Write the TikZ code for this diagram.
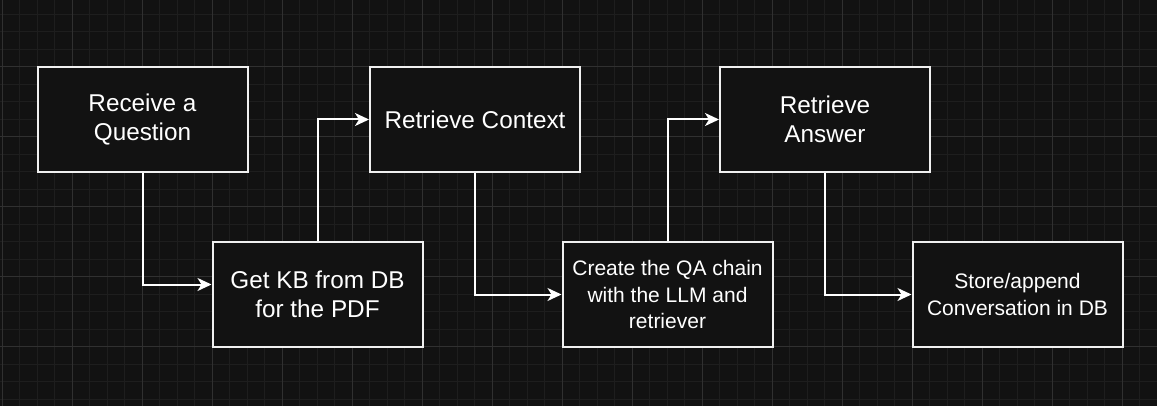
\documentclass[tikz,border=0pt]{standalone}
\usepackage{fontspec}
\setmainfont{Liberation Sans}
\usepackage{tikz}
\usetikzlibrary{positioning,arrows.meta}
\definecolor{bgdark}{HTML}{121212}
\definecolor{gridminor}{HTML}{1E1E1E}
\definecolor{gridmajor}{HTML}{303030}
\definecolor{boxline}{HTML}{F0F0F0}

\begin{document}
\begin{tikzpicture}[x=1pt,y=-1pt,
        stepbox/.style={draw=boxline, fill=bgdark, line width=2pt, minimum width=210pt, minimum height=105pt, align=center, text=white, font=\fontsize{24.3}{29}\selectfont},
        smallbox/.style={stepbox, font=\fontsize{21}{26.5}\selectfont},
        flow/.style={draw=white, line width=2pt, -{Stealth[length=14pt,width=13pt,inset=4pt]}}]
        \useasboundingbox (0,0) rectangle (1157,406);
        \fill[bgdark] (0,0) rectangle (1157,406);
        % grid
        \foreach \i in {0,...,66}
            \draw[gridminor, line width=1pt] (2.3+17.5*\i,0) -- (2.3+17.5*\i,406);
        \foreach \j in {0,...,22}
            \draw[gridminor, line width=1pt] (0,14.2+17.5*\j) -- (1157,14.2+17.5*\j);
        \foreach \i in {0,...,16}
            \draw[gridmajor, line width=1pt] (2.3+70*\i,0) -- (2.3+70*\i,406);
        \foreach \j in {1,...,5}
            \draw[gridmajor, line width=1pt] (0,-3.3+70*\j) -- (1157,-3.3+70*\j);

        \node[stepbox] (question) at (142.5,119.5) {Receive a\\Question};
        \node[stepbox] (kb) at (317.5,294.5) {Get KB from DB\\for the PDF};
        \node[stepbox] (context) at (475,119.5) {Retrieve Context};
        \node[smallbox] (chain) at (667.5,294.5) {Create the QA chain\\with the LLM and\\retriever};
        \node[stepbox] (answer) at (825,119.5) {Retrieve\\Answer};
        \node[smallbox] (store) at (1017.5,294.5) {Store/append\\Conversation in DB};

        \draw[flow] (question.south) |- ([yshift=10pt]kb.west);
        \draw[flow] (kb.north) |- (context.west);
        \draw[flow] (context.south) |- (chain.west);
        \draw[flow] (chain.north) |- (answer.west);
        \draw[flow] (answer.south) |- (store.west);
    \end{tikzpicture}
\end{document}
